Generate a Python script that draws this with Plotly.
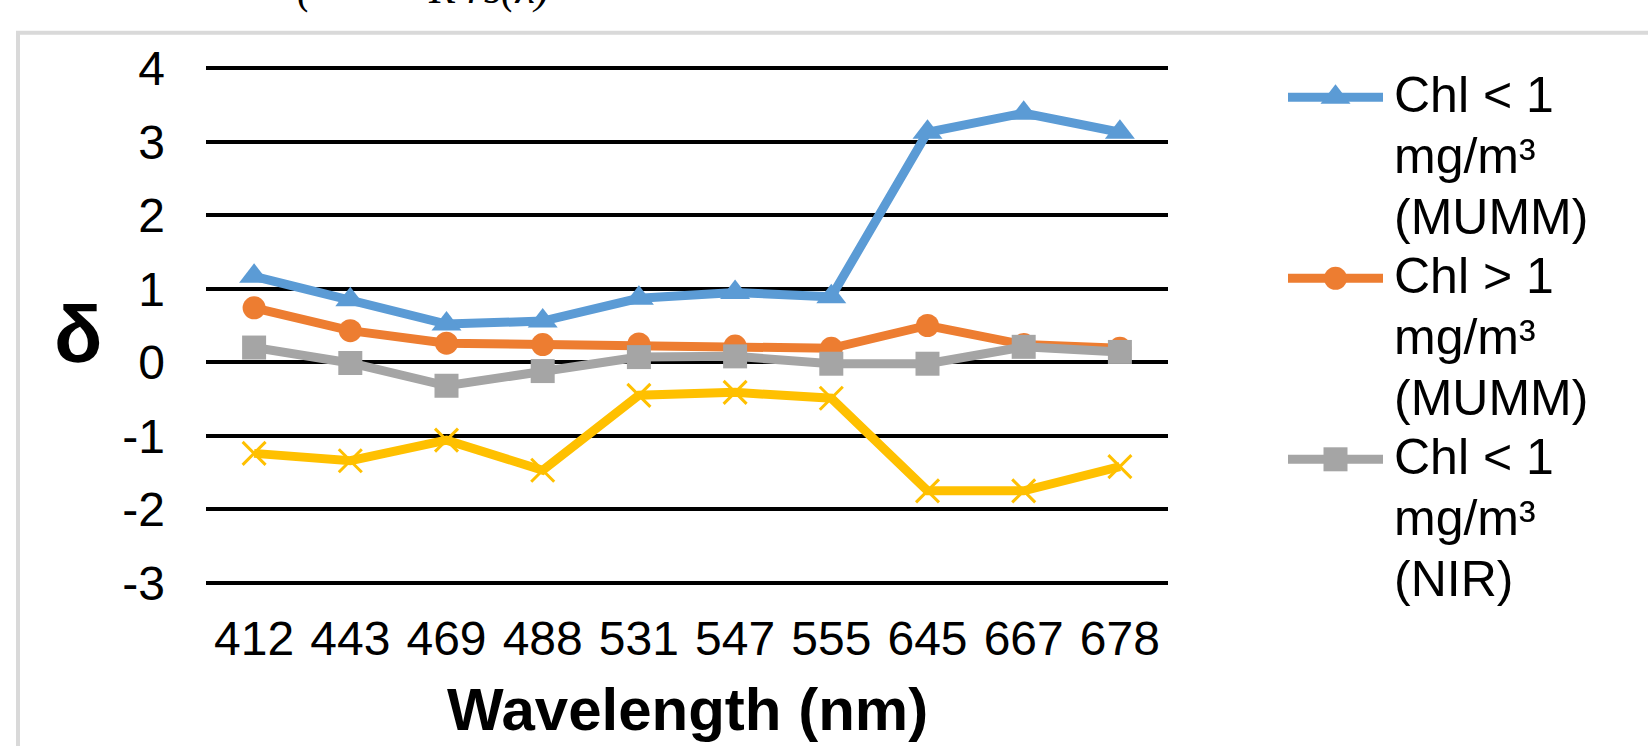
import plotly.graph_objects as go

# ---- data -------------------------------------------------------------
wavelengths = ["412", "443", "469", "488", "531", "547", "555", "645", "667", "678"]

chl_lt1_mumm = [1.17, 0.85, 0.52, 0.56, 0.87, 0.95, 0.89, 3.13, 3.39, 3.13]
chl_gt1_mumm = [0.74, 0.43, 0.26, 0.24, 0.25, 0.22, 0.19, 0.50, 0.24, 0.19]
chl_lt1_nir = [0.20, -0.01, -0.32, -0.12, 0.07, 0.08, -0.02, -0.02, 0.21, 0.14]
chl_gt1_nir = [-1.24, -1.34, -1.06, -1.47, -0.45, -0.41, -0.49, -1.75, -1.75, -1.42]

series_names = [
    "Chl < 1 mg/m³ (MUMM)",
    "Chl > 1 mg/m³ (MUMM)",
    "Chl < 1 mg/m³ (NIR)",
    "Chl > 1 mg/m³ (NIR)",
]
legend_lines = [
    ["Chl < 1", "mg/m³", "(MUMM)"],
    ["Chl > 1", "mg/m³", "(MUMM)"],
    ["Chl < 1", "mg/m³", "(NIR)"],
]
y_ticks = [-3, -2, -1, 0, 1, 2, 3, 4]
y_tick_labels = ["-3", "-2", "-1", "0", "1", "2", "3", "4"]

# ---- styling ----------------------------------------------------------
colors = ["#5B9BD5", "#ED7D31", "#A5A5A5", "#FFC000"]
symbols = ["triangle-up", "circle", "square", "x-thin"]
sizes = [26, 23, 24, 23]
LINE_W = 9

W, H = 1648, 746
FONT = "Liberation Sans, Arial, sans-serif"

# plot-area geometry in pixels
PLOT_L, PLOT_R = 206, 1168
Y4_PX, YM3_PX = 68.3, 582.7
PAD = 0.05
ppu = (YM3_PX - Y4_PX) / 7.0
top_px = Y4_PX - PAD * ppu
bot_px = YM3_PX + PAD * ppu

# legend block geometry
LEG_X0, LEG_X1 = 1288, 1383
LEG_TEXT_X = 1392
LEG_Y0 = 97.3
LEG_STEP = 181.0
LEG_LINE = 61.0


def fx(p):
    return p / W


def fy(p):
    return 1 - p / H


fig = go.Figure()

all_series = [chl_lt1_mumm, chl_gt1_mumm, chl_lt1_nir, chl_gt1_nir]
for name, vals, c, s, sz in zip(series_names, all_series, colors, symbols, sizes):
    thin = s.endswith("thin")
    fig.add_trace(go.Scatter(
        x=wavelengths, y=vals, name=name, mode="lines+markers",
        line=dict(color=c, width=LINE_W),
        marker=dict(symbol=s, size=sz, color=c,
                    line=dict(color=c, width=3 if thin else 0)),
        xaxis="x", yaxis="y", showlegend=False,
    ))

# legend samples: line with a centred marker, one row per entry
for k in range(len(legend_lines)):
    c, s, sz = colors[k], symbols[k], sizes[k]
    fig.add_trace(go.Scatter(
        x=[0, 1], y=[k, k], mode="lines", line=dict(color=c, width=LINE_W),
        xaxis="x2", yaxis="y2", showlegend=False, hoverinfo="skip",
    ))
    fig.add_trace(go.Scatter(
        x=[0.5], y=[k], mode="markers",
        marker=dict(symbol=s, size=sz, color=c, line=dict(width=0)),
        xaxis="x2", yaxis="y2", showlegend=False, hoverinfo="skip",
    ))

annotations = []
for k, lines in enumerate(legend_lines):
    for j, txt in enumerate(lines):
        annotations.append(dict(
            text=txt, xref="paper", yref="y2", x=fx(LEG_TEXT_X),
            y=k + j * LEG_LINE / LEG_STEP, xanchor="left", yanchor="middle",
            yshift=2, showarrow=False, font=dict(family=FONT, size=50, color="black"),
        ))

# axis titles
annotations.append(dict(
    text="<b>Wavelength (nm)</b>", xref="paper", yref="paper",
    x=fx((PLOT_L + PLOT_R) / 2), y=fy(709), xanchor="center", yanchor="middle",
    showarrow=False, font=dict(family=FONT, size=60, color="black"),
))
annotations.append(dict(
    text="<b>δ</b>", xref="paper", yref="paper",
    x=fx(78), y=fy(334), xanchor="center", yanchor="middle",
    showarrow=False, font=dict(family=FONT, size=80, color="black"),
))

# equation text running off the top edge
annotations.append(dict(
    text="<i>(</i>", xref="paper", yref="paper", x=fx(295), y=fy(15),
    xanchor="left", yanchor="bottom", showarrow=False,
    font=dict(family="Liberation Serif, serif", size=44, color="black"),
))
annotations.append(dict(
    text="<i>R rs(λ)</i>", xref="paper", yref="paper", x=fx(426), y=fy(15),
    xanchor="left", yanchor="bottom", showarrow=False,
    font=dict(family="Liberation Serif, serif", size=44, color="black"),
))

fig.update_layout(
    width=W, height=H,
    margin=dict(l=0, r=0, t=0, b=0, autoexpand=False),
    paper_bgcolor="white", plot_bgcolor="rgba(0,0,0,0)",
    font=dict(family=FONT, size=48, color="black"),
    showlegend=False,
    xaxis=dict(
        type="category", domain=[fx(PLOT_L), fx(PLOT_R)], range=[-0.5, 9.5],
        showgrid=False, zeroline=False, showline=False, ticks="",
        tickfont=dict(family=FONT, size=48, color="black"),
        ticklabelstandoff=20, anchor="y",
    ),
    yaxis=dict(
        domain=[fy(bot_px), fy(top_px)], range=[-3 - PAD, 4 + PAD],
        tickvals=y_ticks, ticktext=y_tick_labels,
        showgrid=True, gridcolor="black", gridwidth=4,
        zeroline=False, showline=False, ticks="",
        tickfont=dict(family=FONT, size=48, color="black"),
        ticklabelstandoff=40, anchor="x",
    ),
    xaxis2=dict(domain=[fx(LEG_X0), fx(LEG_X1)], range=[0, 1], visible=False,
                anchor="y2", fixedrange=True),
    yaxis2=dict(domain=[0, 1], range=[(H - LEG_Y0) / LEG_STEP, -LEG_Y0 / LEG_STEP],
                visible=False, anchor="x2", fixedrange=True),
    annotations=annotations,
    shapes=[dict(
        type="rect", xref="paper", yref="paper",
        x0=fx(18), x1=1.05, y0=-0.05, y1=fy(32.8),
        line=dict(color="#D9D9D9", width=4), fillcolor="rgba(0,0,0,0)", layer="below",
    )],
)

fig.write_html("out.html")
